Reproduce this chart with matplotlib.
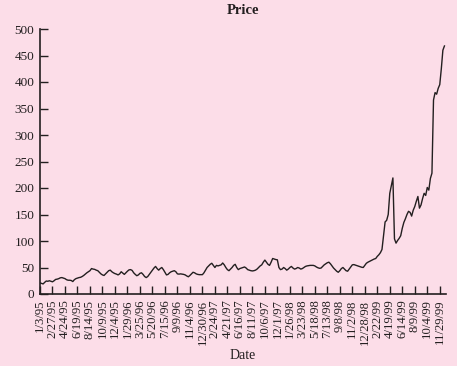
import numpy as np
import matplotlib
matplotlib.use("Agg")
import matplotlib.pyplot as plt

tick_labels = ["1/3/95", "2/27/95", "4/24/95", "6/19/95", "8/14/95", "10/9/95", "12/4/95",
               "1/29/96", "3/25/96", "5/20/96", "7/15/96", "9/9/96", "11/4/96", "12/30/96",
               "2/24/97", "4/21/97", "6/16/97", "8/11/97", "10/6/97", "12/1/97",
               "1/26/98", "3/23/98", "5/18/98", "7/13/98", "9/8/98", "11/2/98", "12/28/98",
               "2/22/99", "4/19/99", "6/14/99", "8/9/99", "10/4/99", "11/29/99"]

# weekly prices
prices = [21, 20, 19, 22, 24.5, 24, 25, 24, 23, 25,
          27.5, 28, 29, 30.5, 31, 30, 29, 27, 26, 26,
          25.5, 23.5, 27, 29, 30, 31, 31.5, 33, 35, 37.5,
          40, 42, 44, 48, 47, 46.5, 45, 44, 41, 38,
          36, 35, 38, 41, 44, 45, 42, 40, 38.5, 37.5,
          36, 38, 42, 39.5, 37, 40, 43, 45.5, 46, 44.5,
          40, 37, 34.5, 36, 39, 40, 37, 33, 31, 33,
          37, 41, 45, 49, 52, 48, 45, 48, 50, 46,
          41, 36, 37, 40, 42, 43, 44, 42, 38, 37.5,
          38, 37.5, 37, 36, 34, 32.5, 35, 38, 41, 40,
          38, 37, 36.5, 36.5, 36.5, 40, 45, 50, 53, 56,
          58, 54, 50, 54, 53, 54, 55, 58.5, 55, 50,
          46, 44, 47, 50, 54, 56, 50, 46, 48, 49,
          50, 51, 49, 46, 45, 44, 43.5, 44, 45, 47,
          50, 53, 55, 60, 64, 60, 56, 54, 60, 67,
          66, 65, 64.5, 50, 46, 47, 50, 48, 45, 47,
          50, 52, 49, 47, 48, 50, 49, 47, 48, 50,
          52, 53, 53.5, 54, 54, 54, 53, 51, 49.5, 48.5,
          49, 52, 55, 57, 59, 60, 57, 53, 49, 46,
          43, 41, 44, 48, 50, 47, 44, 43, 47, 51,
          55, 55.5, 54.5, 53.5, 52.5, 51.5, 50.5, 50, 54, 58,
          60, 61.5, 63, 64.5, 66, 67, 71, 74, 78, 84,
          110, 136, 139, 150, 190, 205, 219, 104, 96, 101,
          105, 110, 124, 135, 142, 150, 156, 154, 147, 158,
          165, 175, 184, 162, 168, 180, 190, 186, 201, 196,
          218, 228, 366, 380, 377, 388, 395, 425, 460, 468]

y_ticks = [0, 50, 100, 150, 200, 250, 300, 350, 400, 450, 500]

bg = "#fcdde8"
plt.rcParams["font.family"] = ["Liberation Serif", "DejaVu Serif"]

fig = plt.figure(figsize=(4.57, 3.66), dpi=100, facecolor=bg)
ax = fig.add_axes([40 / 457, (366 - 294) / 366, (446 - 40) / 457, (294 - 29) / 366])
ax.set_facecolor(bg)

x = np.arange(len(prices))
ax.plot(x, prices, color="#231f20", lw=1.0)

ax.set_xlim(0, 260)
ax.set_ylim(0, 500)
ax.set_yticks(y_ticks)
ax.set_xticks(np.arange(len(tick_labels)) * 8)
ax.set_xticklabels(tick_labels, rotation=90, fontsize=9.2, color="#231f20")
ax.tick_params(axis="y", labelsize=9.5, labelcolor="#231f20")
ax.tick_params(direction="in", length=6, width=1.0, pad=4, color="#231f20")

for s in ["top", "right"]:
    ax.spines[s].set_visible(False)
for s in ["left", "bottom"]:
    ax.spines[s].set_linewidth(1.2)
    ax.spines[s].set_color("#231f20")

ax.set_title("Price", fontsize=10.5, fontweight="bold", color="#231f20", pad=11)
ax.set_xlabel("Date", fontsize=10, color="#231f20", labelpad=3)

fig.savefig("out.png", dpi=100, facecolor=bg)
